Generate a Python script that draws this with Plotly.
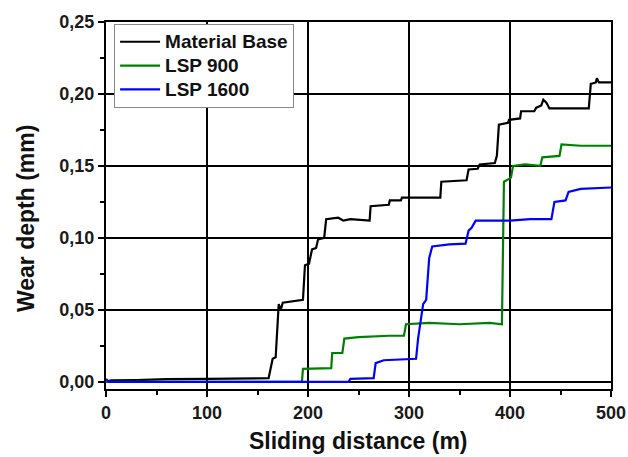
import plotly.graph_objects as go

# Material Base (black)
base_x = [0, 5, 30, 60, 100, 140, 161, 165, 168, 171, 173, 175, 185, 195, 197, 201, 204, 208, 210, 216, 218, 230, 235, 242,
          261, 262, 280, 281, 292, 293, 331, 332, 357, 359, 368, 370, 385, 387, 389, 398, 399, 410, 411, 424, 426, 431,
          433, 436, 439, 478, 480, 485, 486, 488, 500]
base_y = [0.000, 0.001, 0.0012, 0.0018, 0.002, 0.0022, 0.0025, 0.016, 0.017, 0.054, 0.050, 0.055, 0.056, 0.057, 0.081,
          0.082, 0.092, 0.093, 0.099, 0.100, 0.113, 0.114, 0.112, 0.113, 0.112, 0.122, 0.123, 0.126, 0.126, 0.128,
          0.128, 0.139, 0.140, 0.1475, 0.148, 0.151, 0.152, 0.157, 0.1786, 0.180, 0.182, 0.183, 0.188, 0.188, 0.1905,
          0.192, 0.196, 0.194, 0.190, 0.190, 0.207, 0.208, 0.211, 0.208, 0.208]

# LSP 900 (green)
lsp900_x = [0, 194, 195, 223, 224, 234, 236, 250, 280, 295, 297, 320, 350, 380, 392, 393, 394, 399, 401, 403, 415, 430,
            432, 449, 451, 470, 500]
lsp900_y = [0.0, 0.0, 0.009, 0.0095, 0.020, 0.020, 0.030, 0.031, 0.032, 0.032, 0.040, 0.041, 0.040, 0.041, 0.040, 0.080,
            0.139, 0.141, 0.142, 0.150, 0.151, 0.150, 0.156, 0.157, 0.165, 0.164, 0.164]

# LSP 1600 (blue)
lsp1600_x = [0, 3, 240, 242, 265, 267, 275, 307, 309, 311, 314, 317, 320, 323, 340, 356, 359, 362, 366, 400, 420, 441,
             444, 455, 458, 470, 500]
lsp1600_y = [0.002, 0.0, 0.0, 0.002, 0.0025, 0.013, 0.015, 0.016, 0.030, 0.040, 0.054, 0.057, 0.086, 0.094, 0.0955,
             0.096, 0.105, 0.107, 0.112, 0.112, 0.113, 0.113, 0.125, 0.126, 0.132, 0.134, 0.135]

series_names = ["Material Base", "LSP 900", "LSP 1600"]
x_ticks = [0, 100, 200, 300, 400, 500]
y_ticks = [0.00, 0.05, 0.10, 0.15, 0.20, 0.25]

FONT = "Arial, Liberation Sans, sans-serif"


def legend_label(s):
    return "<span style='font-size:19px'>" + s + "</span>"


fig = go.Figure()
fig.add_trace(go.Scatter(x=base_x, y=base_y, mode="lines", name=legend_label(series_names[0]),
                         line=dict(color="#000000", width=2.2)))
fig.add_trace(go.Scatter(x=lsp900_x, y=lsp900_y, mode="lines", name=legend_label(series_names[1]),
                         line=dict(color="#008000", width=2.2)))
fig.add_trace(go.Scatter(x=lsp1600_x, y=lsp1600_y, mode="lines", name=legend_label(series_names[2]),
                         line=dict(color="#0000ff", width=2.2)))

axis_common = dict(showline=True, linecolor="black", linewidth=2, mirror=True,
                   showgrid=True, gridcolor="black", gridwidth=2, zeroline=False,
                   ticks="outside", ticklen=6, tickwidth=2, tickcolor="black", automargin=False,
                   tickfont=dict(family=FONT, size=18, color="#1a1a1a", weight="bold"))

fig.update_xaxes(range=[0, 500], tickvals=x_ticks, **axis_common,
                 minor=dict(ticks="outside", ticklen=4, tickwidth=2, tickcolor="black", dtick=50, showgrid=False))
fig.update_yaxes(range=[-0.005, 0.25], tickvals=y_ticks, tickformat=".2f", **axis_common,
                 minor=dict(ticks="outside", ticklen=4, tickwidth=2, tickcolor="black", dtick=0.025, showgrid=False))

title_font = dict(family=FONT, size=23, color="#111111", weight="bold")
fig.add_annotation(text="Sliding distance (m)", xref="paper", yref="paper", x=0.5, y=0,
                   yshift=-52, xanchor="center", yanchor="middle", showarrow=False, font=title_font)
fig.add_annotation(text="Wear depth (mm)", xref="paper", yref="paper", x=0, y=0.463,
                   xshift=-80, xanchor="center", yanchor="middle", textangle=-90, showarrow=False, font=title_font)

fig.update_layout(
    width=628, height=457,
    margin=dict(l=106, r=17, t=22, b=68),
    paper_bgcolor="white", plot_bgcolor="white",
    separators=",.",
    showlegend=True,
    legend=dict(x=0.016, y=0.995, xanchor="left", yanchor="top",
                bgcolor="white", bordercolor="#888888", borderwidth=1,
                font=dict(family=FONT, size=16, color="#111111", weight="bold"),
                tracegroupgap=0, itemwidth=40),
)

# remove the default page margin so the 628x457 figure fills the window exactly
fig.write_html("out.html", config={"displayModeBar": False},
               post_script="document.body.style.margin='0';document.body.style.overflow='hidden';")
